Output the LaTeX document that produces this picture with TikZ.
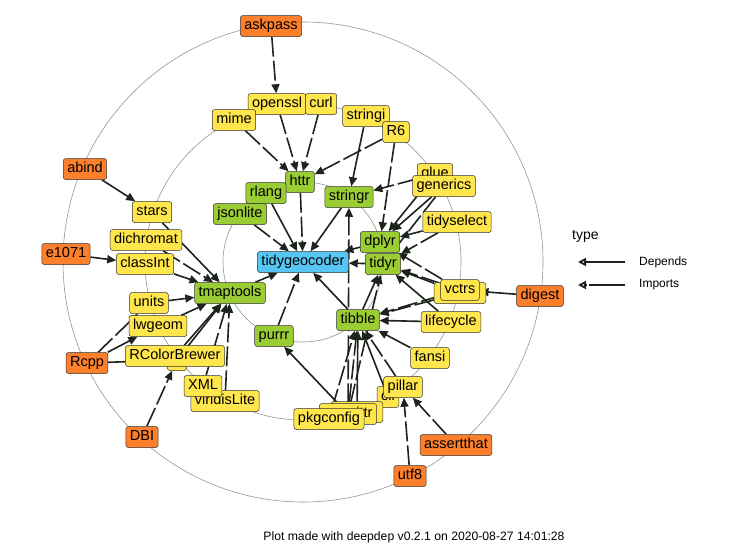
\documentclass[tikz,border=0pt]{standalone}
\usepackage{fontspec}
\setmainfont{Liberation Sans}
\usetikzlibrary{arrows.meta}
\definecolor{cblue}{RGB}{86,199,242}
\definecolor{cgreen}{RGB}{154,204,52}
\definecolor{cyellow}{RGB}{255,230,77}
\definecolor{corange}{RGB}{252,127,44}
\definecolor{edgecol}{RGB}{28,36,28}
\definecolor{nodeline}{RGB}{50,50,50}
\definecolor{ringcol}{RGB}{150,150,150}
\pgfdeclarelayer{back}
\pgfdeclarelayer{edges}
\pgfsetlayers{back,edges,main}
\begin{document}
\begin{tikzpicture}[x=1pt,y=-1pt,
  pkg/.style={draw=nodeline, line width=0.5pt, rounded corners=2.5pt, inner xsep=4pt, inner ysep=0pt, minimum height=21pt, text height=10.4pt, text depth=3pt, font=\fontsize{14.5}{16}\selectfont, text=black},
  lz/.style={pkg, fill=cblue},
  lo/.style={pkg, fill=cgreen},
  lt/.style={pkg, fill=cyellow},
  lh/.style={pkg, fill=corange},
  hid/.style={text=cyellow},
  dep/.style={draw=edgecol, line width=1.6pt, -{Triangle[length=9pt,width=8pt]}},
  imp/.style={dep, dash pattern=on 20pt off 4pt},
  legdep/.style={draw=edgecol, line width=1.8pt, -{Triangle[open,length=8pt,width=8pt]}},
  legimp/.style={legdep, dash pattern=on 36pt off 3pt},
  ring/.style={draw=ringcol, line width=0.6pt},
]
\useasboundingbox (0,0) rectangle (729,544);
\begin{pgfonlayer}{back}
\fill[white] (0,0) rectangle (729,544);
\coordinate (ctr) at (303,262);
\draw[ring] (ctr) circle[radius=80pt];
\draw[ring] (ctr) circle[radius=158pt];
\draw[ring] (ctr) circle[radius=240pt];
\end{pgfonlayer}

% level 3
\node[lh] (askpass) at (271,26) {askpass};
\node[lh] (abind) at (85,169) {abind};
\node[lh] (e1071) at (66,254) {e1071};
\node[lh] (digest) at (540,296) {digest};
\node[lh] (Rcpp) at (87,363) {Rcpp};
\node[lh] (DBI) at (142,437) {DBI};
\node[lh] (assertthat) at (456,445) {assertthat};
\node[lh] (utf8) at (410,476) {utf8};
% level 2
\node[lt] (openssl) at (277,104) {openssl};
\node[lt] (curl) at (321,104) {curl};
\node[lt] (mime) at (234,120) {mime};
\node[lt] (stringi) at (366,116) {stringi};
\node[lt] (R6) at (396,132) {R6};
\node[lt] (glue) at (435,174) {glue};
\node[lt] (generics) at (444,186) {generics};
\node[lt] (tidyselect) at (457,222) {tidyselect};
\node[lt,hid] (ellipsis) at (460,293) {ellipsis};
\node[lt] (vctrs) at (460,290) {vctrs};
\node[lt] (lifecycle) at (451,322) {lifecycle};
\node[lt] (fansi) at (430,358) {fansi};
\node[lt] (cli) at (388,397) {cli};
\node[lt] (pillar) at (403,387) {pillar};
\node[lt,hid] (crayon) at (357,412) {crayon};
\node[lt] (magrittr) at (348,414) {magrittr};
\node[lt] (pkgconfig) at (329,419) {pkgconfig};
\node[lt] (stars) at (152,212) {stars};
\node[lt] (dichromat) at (146,240) {dichromat};
\node[lt] (classInt) at (145,264) {classInt};
\node[lt] (units) at (149,303) {units};
\node[lt] (lwgeom) at (158,326) {lwgeom};
\node[lt,hid] (sf) at (177,360) {sf};
\node[lt] (RColorBrewer) at (175,356) {RColorBrewer};
\node[lt] (viridisLite) at (225,401) {viridisLite};
\node[lt] (XML) at (203,386) {XML};
% level 1
\node[lo] (httr) at (300,182) {httr};
\node[lo] (rlang) at (266,193) {rlang};
\node[lo] (jsonlite) at (240,214) {jsonlite};
\node[lo] (stringr) at (349,197) {stringr};
\node[lo] (dplyr) at (380,242) {dplyr};
\node[lo] (tidyr) at (383,264) {tidyr};
\node[lo] (tibble) at (358,320) {tibble};
\node[lo] (purrr) at (274,336) {purrr};
\node[lo] (tmaptools) at (230,293) {tmaptools};
% level 0
\node[lz] (tidygeocoder) at (303,262) {tidygeocoder};

\begin{pgfonlayer}{edges}
% solid (Depends-looking)
\draw[dep] (abind) -- (stars);
\draw[dep] (e1071) -- (classInt);
\draw[dep] (classInt) -- (tmaptools);
\draw[dep] (units) -- (tmaptools);
\draw[dep] (lwgeom) -- (tmaptools);
\draw[dep] (Rcpp) -- (lwgeom);
\draw[dep] (Rcpp) -- (sf);
\draw[dep] (stars) -- (tmaptools);
\draw[dep] (sf) -- (tmaptools);
\draw[dep] (RColorBrewer) -- (tmaptools);
\draw[dep] (rlang) -- (tidygeocoder);
\draw[dep] (stringr) -- (tidygeocoder);
\draw[dep] (tmaptools) -- (tidygeocoder);
\draw[dep] (tibble) -- (tidygeocoder);
\draw[dep] (lifecycle) -- (tibble);
\draw[dep] (digest) -- (vctrs);
\draw[dep] (stringi) -- (stringr);
\draw[dep] (magrittr) -- (purrr);
\draw[dep] (tibble) -- (tidyr);
\draw[dep] (generics) -- (dplyr);
\draw[dep] (glue) -- (dplyr);
\draw[dep] (lifecycle) -- (tidyr);
\draw[dep] (ellipsis) -- (tidyr);
\draw[dep] (fansi) -- (tibble);
\draw[dep] (crayon) -- (tibble);
\draw[dep] (cli) -- (tibble);
% dashed (Imports)
\draw[imp] (askpass) -- (openssl);
\draw[imp] (openssl) -- (httr);
\draw[imp] (curl) -- (httr);
\draw[imp] (mime) -- (httr);
\draw[imp] (R6) -- (httr);
\draw[imp] (R6) -- (dplyr);
\draw[imp] (httr) -- (tidygeocoder);
\draw[imp] (jsonlite) -- (tidygeocoder);
\draw[imp] (purrr) -- (tidygeocoder);
\draw[imp] (dplyr) -- (tidygeocoder);
\draw[imp] (tidyr) -- (tidygeocoder);
\draw[imp] (dichromat) -- (tmaptools);
\draw[imp] (XML) -- (tmaptools);
\draw[imp] (viridisLite) -- (tmaptools);
\draw[imp] (Rcpp) -- (units);
\draw[imp] (DBI) -- (sf);
\draw[imp] (glue) -- (stringr);
\draw[imp] (tidyselect) -- (dplyr);
\draw[imp] (tidyselect) -- (tidyr);
\draw[imp] (vctrs) -- (tibble);
\draw[imp] (vctrs) -- (tidyr);
\draw[imp] (vctrs) -- (dplyr);
\draw[imp] (pillar) -- (tibble);
\draw[imp] (magrittr) -- (stringr);
\draw[imp] (magrittr) -- (tibble);
\draw[imp] (magrittr) -- (tidyr);
\draw[imp] (pkgconfig) -- (tibble);
\draw[imp] (utf8) -- (pillar);
\draw[imp] (assertthat) -- (pillar);
\draw[imp] (generics) -- (tidyr);
\draw[imp] (ellipsis) -- (tibble);
\end{pgfonlayer}

% legend
\node[anchor=west, font=\fontsize{14}{16}\selectfont, inner sep=0pt] (legtitle) at (572,236) {type};
\coordinate (dA) at (625,262);
\coordinate (dB) at (578,262);
\coordinate (iA) at (625,285);
\coordinate (iB) at (578,285);
\draw[legdep] (dA) -- (dB);
\draw[legimp] (iA) -- (iB);
\node[anchor=west, font=\fontsize{12}{14}\selectfont, inner sep=0pt] (legdep) at (639,262) {Depends};
\node[anchor=west, font=\fontsize{12}{14}\selectfont, inner sep=0pt] (legimp) at (639,285) {Imports};

\node[font=\fontsize{12.2}{14}\selectfont, inner sep=0pt] (caption) at (414,537) {Plot made with deepdep v0.2.1 on 2020-08-27 14:01:28};
\end{tikzpicture}
\end{document}
